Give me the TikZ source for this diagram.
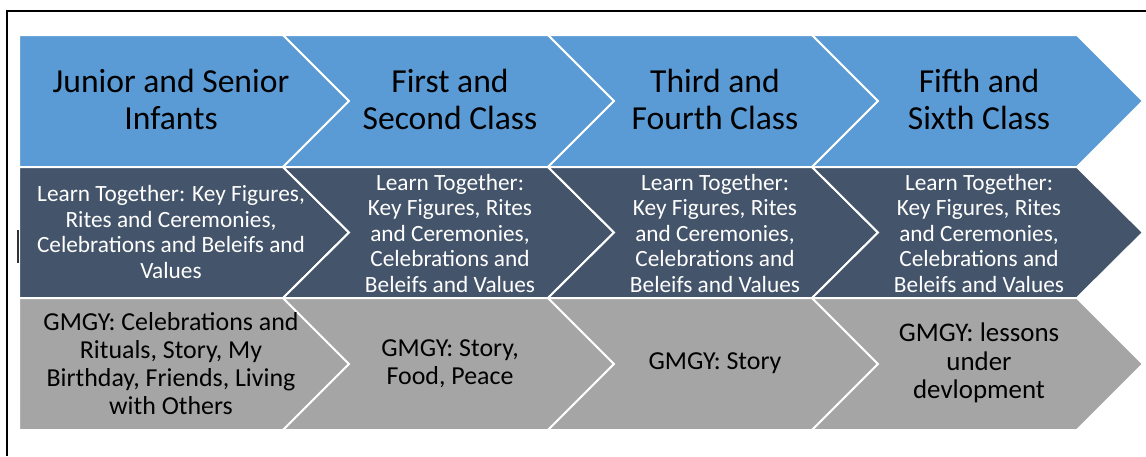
\documentclass[tikz,border=0pt]{standalone}
\usepackage{fontspec}
\setmainfont{Carlito}
\usepackage{tikz}
\usetikzlibrary{positioning}
\definecolor{mblue}{rgb}{0.357, 0.608, 0.835}
\definecolor{mdark}{rgb}{0.267, 0.329, 0.416}
\definecolor{mgray}{rgb}{0.647, 0.647, 0.647}
\tikzset{chev/.style = {draw=white, line width=2pt, line join=miter}}
\tikzset{head/.style = {inner sep=0, align=center, text=black,
                        font=\fontsize{33.6}{37}\selectfont}}
\tikzset{topic/.style = {inner sep=0, align=center, text=white,
                         font=\fontsize{23.3}{25.5}\selectfont}}
\tikzset{gmgy/.style = {inner sep=0, align=center, text=black,
                        font=\fontsize{25.9}{28}\selectfont}}

\begin{document}
\begin{tikzpicture}[x=1pt, y=-1pt]
    \useasboundingbox (0, 0) rectangle (1146, 456);

    % frame
    \coordinate (fb) at (7, 456);
    \coordinate (fc) at (7, 11);
    \coordinate (fr) at (1146, 11);
    \draw [line width=1.5pt] (fb) -- (fc) -- (fr);

    % class row
    \draw [chev, fill=mblue] (19, 35) -- (283, 35) -- (349, 101) -- (283, 167) -- (19, 167) -- cycle;
    \draw [chev, fill=mblue] (283, 35) -- (548, 35) -- (614, 101) -- (548, 167) -- (283, 167) -- (349, 101) -- cycle;
    \draw [chev, fill=mblue] (548, 35) -- (812, 35) -- (878, 101) -- (812, 167) -- (548, 167) -- (614, 101) -- cycle;
    \draw [chev, fill=mblue] (812, 35) -- (1077, 35) -- (1143, 101) -- (1077, 167) -- (812, 167) -- (878, 101) -- cycle;

    % learn together row
    \draw [chev, fill=mdark] (19, 167) -- (283, 167) -- (349, 232.5) -- (283, 298) -- (19, 298) -- cycle;
    \draw [chev, fill=mdark] (283, 167) -- (548, 167) -- (614, 232.5) -- (548, 298) -- (283, 298) -- (349, 232.5) -- cycle;
    \draw [chev, fill=mdark] (548, 167) -- (812, 167) -- (878, 232.5) -- (812, 298) -- (548, 298) -- (614, 232.5) -- cycle;
    \draw [chev, fill=mdark] (812, 167) -- (1077, 167) -- (1143, 232.5) -- (1077, 298) -- (812, 298) -- (878, 232.5) -- cycle;

    % gmgy row
    \draw [chev, fill=mgray] (19, 298) -- (283, 298) -- (349, 364) -- (283, 430) -- (19, 430) -- cycle;
    \draw [chev, fill=mgray] (283, 298) -- (548, 298) -- (614, 364) -- (548, 430) -- (283, 430) -- (349, 364) -- cycle;
    \draw [chev, fill=mgray] (548, 298) -- (812, 298) -- (878, 364) -- (812, 430) -- (548, 430) -- (614, 364) -- cycle;
    \draw [chev, fill=mgray] (812, 298) -- (1077, 298) -- (1143, 364) -- (1077, 430) -- (812, 430) -- (878, 364) -- cycle;

    \draw [line width=2pt, color=black!80] (18, 230) -- (18, 263);

    \node (c1) at (171, 99) [head] {Junior and Senior\\Infants};
    \node (c2) at (450, 99) [head] {First and\\Second Class};
    \node (c3) at (715, 99) [head] {Third and\\Fourth Class};
    \node (c4) at (979, 99) [head] {Fifth and\\Sixth Class};

    \node (t1) at (171, 232) [topic] {Learn Together: Key Figures,\\Rites and Ceremonies,\\Celebrations and Beleifs and\\Values};
    \node (t2) at (450, 233) [topic] {Learn Together:\\Key Figures, Rites\\and Ceremonies,\\Celebrations and\\Beleifs and Values};
    \node (t3) at (715, 233) [topic] {Learn Together:\\Key Figures, Rites\\and Ceremonies,\\Celebrations and\\Beleifs and Values};
    \node (t4) at (979, 233) [topic] {Learn Together:\\Key Figures, Rites\\and Ceremonies,\\Celebrations and\\Beleifs and Values};

    \node (g1) at (171, 364) [gmgy] {GMGY: Celebrations and\\Rituals, Story, My\\Birthday, Friends, Living\\with Others};
    \node (g2) at (450, 364) [gmgy] {GMGY: Story,\\Food, Peace};
    \node (g3) at (715, 363) [gmgy] {GMGY: Story};
    \node (g4) at (979, 363) [gmgy, font=\fontsize{26.9}{28.5}\selectfont] {GMGY: lessons\\under\\devlopment};
\end{tikzpicture}
\end{document}
